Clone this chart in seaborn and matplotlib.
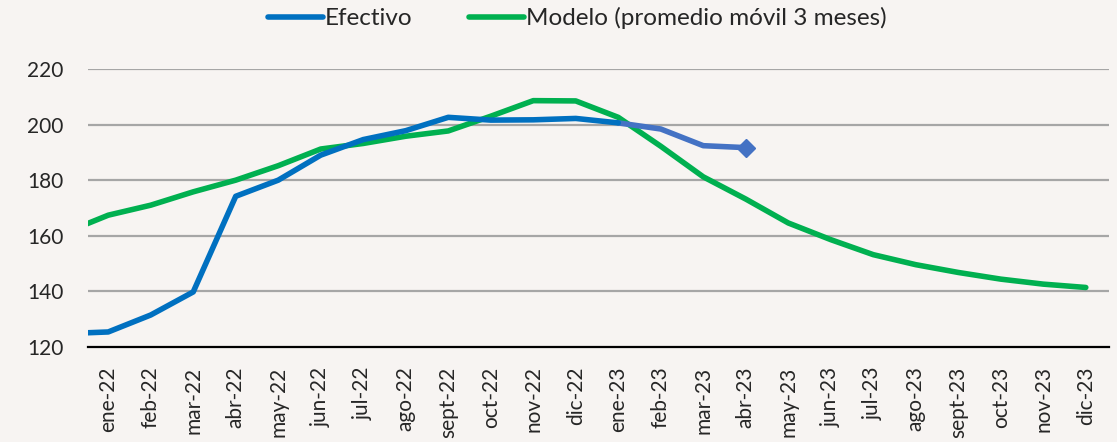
import numpy as np
import pandas as pd
import seaborn as sns
import matplotlib.pyplot as plt

# months shown on the axis (the first point, dic-21, sits just off the left edge)
meses = ['ene-22', 'feb-22', 'mar-22', 'abr-22', 'may-22', 'jun-22', 'jul-22', 'ago-22',
         'sept-22', 'oct-22', 'nov-22', 'dic-22', 'ene-23', 'feb-23', 'mar-23', 'abr-23',
         'may-23', 'jun-23', 'jul-23', 'ago-23', 'sept-23', 'oct-23', 'nov-23', 'dic-23']
periodos = ['dic-21'] + meses

efectivo = [124.8, 125.4, 131.5, 139.8, 174.2, 180.0, 189.0, 194.6, 197.8, 202.6, 201.6, 201.7,
            202.2, 200.6]
efectivo_prelim = [200.6, 198.4, 192.4, 191.7]   # ene-23 .. abr-23
modelo = [161.2, 167.4, 171.0, 175.8, 180.0, 185.2, 191.2, 193.2, 195.8, 197.7, 203.0, 208.6,
          208.5, 202.6, 192.2, 181.2, 173.2, 164.6, 158.6, 153.2, 149.6, 146.8, 144.4, 142.6,
          141.4]

df_mod = pd.DataFrame({'pos': np.arange(len(modelo)) - 1, 'v': modelo})
df_ef = pd.DataFrame({'pos': np.arange(len(efectivo)) - 1, 'v': efectivo})
df_pre = pd.DataFrame({'pos': np.arange(len(efectivo_prelim)) + len(efectivo) - 2,
                       'v': efectivo_prelim})

bg = '#F7F4F2'
sns.set_theme(style='white')
plt.rcParams['font.family'] = ['Lato', 'DejaVu Sans']

fig = plt.figure(figsize=(11.17, 4.42), dpi=100, facecolor=bg)
ax = fig.add_axes([0.079, 0.215, 0.914, 0.629], facecolor=bg)

for y in [140, 160, 180, 200, 220]:
    ax.axhline(y, color='#A6A6A6', lw=1.6, zorder=0)

sns.lineplot(data=df_pre, x='pos', y='v', ax=ax, color='#4472C4', lw=4, zorder=3)
sns.lineplot(data=df_ef, x='pos', y='v', ax=ax, color='#0070C0', lw=4, zorder=3,
             label='Efectivo')
sns.lineplot(data=df_mod, x='pos', y='v', ax=ax, color='#00B050', lw=4, zorder=2,
             label='Modelo (promedio móvil 3 meses)')
ax.plot(df_pre['pos'].iloc[-1], df_pre['v'].iloc[-1], marker='D', ms=9,
        color='#4472C4', zorder=4)

ax.set_xlim(-0.47, 23.55)
ax.set_ylim(120, 220)
ax.set_xticks(range(len(meses)))
ax.set_xticklabels(meses, rotation=90, fontsize=15)
ax.set_yticks([120, 140, 160, 180, 200, 220])
ax.tick_params(axis='y', labelsize=15, length=0, pad=18)
ax.tick_params(axis='x', length=0, pad=14)
ax.set_xlabel('')
ax.set_ylabel('')
for s in ['top', 'right', 'left']:
    ax.spines[s].set_visible(False)
ax.spines['bottom'].set_color('black')
ax.spines['bottom'].set_linewidth(1.6)

ax.legend(loc='center', bbox_to_anchor=(0.479, 1.183), ncol=2, frameon=False,
          fontsize=17.5, handlelength=2.26, handletextpad=0.1, columnspacing=2.3)

fig.savefig('out.png', dpi=100, facecolor=bg)
